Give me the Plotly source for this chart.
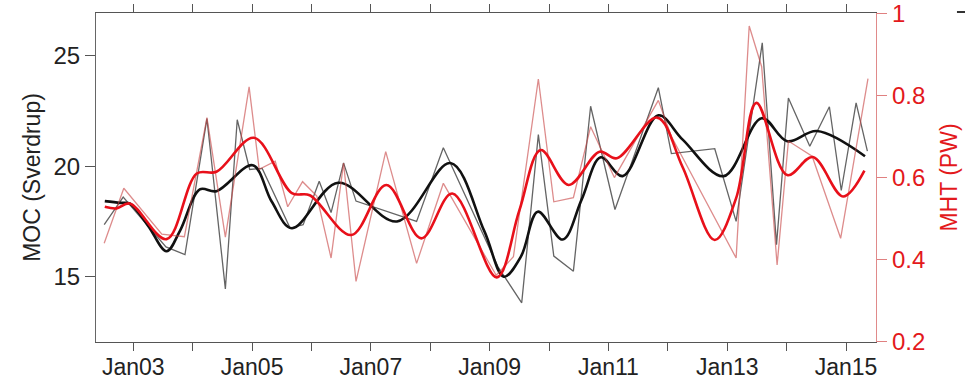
import plotly.graph_objects as go

# ---- data (x in decimal years) ----
moc_raw_x = [2002.51, 2002.83, 2003.55, 2003.87, 2004.24, 2004.55, 2004.75, 2004.96, 2005.17,
             2005.64, 2005.86, 2006.13, 2006.33, 2006.54, 2006.75, 2007.77, 2008.22, 2009.14,
             2009.54, 2009.82, 2010.08, 2010.41, 2010.70, 2011.11, 2011.84, 2012.06, 2012.79,
             2013.15, 2013.59, 2013.83, 2014.03, 2014.39, 2014.72, 2014.92, 2015.17, 2015.36]
moc_raw = [17.35, 18.6, 16.35, 16.0, 22.15, 14.45, 22.1, 19.85, 19.9,
           17.2, 17.35, 19.32, 17.9, 20.15, 18.42, 17.5, 20.83, 15.45,
           13.82, 21.43, 15.93, 15.25, 22.71, 18.04, 23.55, 20.57, 20.79,
           17.5, 25.58, 16.45, 23.08, 20.9, 22.69, 18.9, 22.86, 20.68]

mht_raw_x = [2002.51, 2002.84, 2003.48, 2003.86, 2004.24, 2004.55, 2004.95, 2005.12, 2005.39,
             2005.60, 2005.85, 2006.09, 2006.33, 2006.54, 2006.75, 2007.25, 2007.77, 2008.22,
             2009.11, 2009.40, 2009.82, 2010.08, 2010.41, 2010.70, 2011.10, 2011.84, 2012.06,
             2013.15, 2013.37, 2013.58, 2013.84, 2014.03, 2014.43, 2014.91, 2015.37]
mht_raw = [0.44, 0.574, 0.462, 0.456, 0.746, 0.455, 0.821, 0.62, 0.64,
           0.529, 0.59, 0.555, 0.404, 0.635, 0.347, 0.663, 0.391, 0.586,
           0.362, 0.407, 0.84, 0.541, 0.551, 0.724, 0.6, 0.788, 0.70,
           0.404, 0.969, 0.87, 0.387, 0.689, 0.652, 0.452, 0.841]

moc_smooth_x = [2002.52, 2002.78, 2002.94, 2003.25, 2003.56, 2003.79, 2004.12, 2004.40, 2005.01,
                2005.33, 2005.67, 2006.45, 2007.44, 2008.34, 2008.91, 2009.24, 2009.53, 2009.81,
                2010.23, 2010.55, 2010.87, 2011.24, 2011.84, 2012.25, 2012.94, 2013.58, 2014.01,
                2014.51, 2015.32]
moc_smooth = [18.42, 18.34, 18.31, 17.3, 16.15, 17.1, 18.95, 18.87, 20.04,
              18.4, 17.19, 19.25, 17.5, 20.14, 17.06, 15.0, 15.93, 17.94,
              16.68, 18.5, 20.4, 19.55, 22.3, 21.2, 19.55, 22.17, 21.13,
              21.59, 20.45]

mht_smooth_x = [2002.52, 2002.72, 2002.94, 2003.56, 2004.07, 2004.40, 2005.03, 2005.67, 2005.97,
                2006.67, 2007.26, 2007.85, 2008.37, 2009.12, 2009.50, 2009.86, 2010.33, 2010.85,
                2011.14, 2011.82, 2012.25, 2012.79, 2013.15, 2013.49, 2014.01, 2014.44, 2014.95,
                2015.31]
mht_smooth = [0.529, 0.525, 0.537, 0.45, 0.61, 0.614, 0.697, 0.562, 0.557,
              0.46, 0.582, 0.452, 0.561, 0.357, 0.52, 0.667, 0.582, 0.663,
              0.647, 0.746, 0.625, 0.448, 0.55, 0.782, 0.606, 0.65, 0.554,
              0.617]

tick_years = list(range(2003, 2016))
tick_text = ["Jan03", "", "Jan05", "", "Jan07", "", "Jan09", "", "Jan11", "", "Jan13", "", "Jan15"]
moc_ticks = [15, 20, 25]
mht_ticks = [0.2, 0.4, 0.6, 0.8, 1.0]
mht_tick_text = ["0.2", "0.4", "0.6", "0.8", "1"]

FONT = "Liberation Sans, Arial, Helvetica, sans-serif"
RED = "#e3191c"

fig = go.Figure()
fig.add_trace(go.Scatter(x=moc_raw_x, y=moc_raw, mode="lines",
                         line=dict(color="rgba(40,40,40,0.72)", width=1.3), yaxis="y"))
fig.add_trace(go.Scatter(x=mht_raw_x, y=mht_raw, mode="lines",
                         line=dict(color="rgba(200,70,70,0.62)", width=1.3), yaxis="y2"))
fig.add_trace(go.Scatter(x=moc_smooth_x, y=moc_smooth, mode="lines",
                         line=dict(color="#111111", width=2.6, shape="spline", smoothing=1.0),
                         yaxis="y"))
fig.add_trace(go.Scatter(x=mht_smooth_x, y=mht_smooth, mode="lines",
                         line=dict(color="#e8101a", width=2.6, shape="spline", smoothing=1.0),
                         yaxis="y2"))

fig.update_layout(
    width=965, height=383,
    margin=dict(l=96, r=89, t=13, b=41, autoexpand=False),
    paper_bgcolor="white", plot_bgcolor="white",
    showlegend=False,
    font=dict(family=FONT, size=24, color="#222"),
    xaxis=dict(range=[2002.372, 2015.505], tickmode="array", tickvals=tick_years,
               ticktext=tick_text, ticks="outside", ticklen=8, tickwidth=1.2,
               tickcolor="#555", showline=True, linecolor="#555", linewidth=1.2,
               mirror="ticks", showgrid=False, zeroline=False, automargin=False,
               ticklabelstandoff=-4,
               tickfont=dict(size=23, color="#222")),
    yaxis=dict(range=[12.045, 26.93], tickmode="array", tickvals=moc_ticks,
               ticks="outside", ticklen=10, tickwidth=1.2, tickcolor="#555",
               showline=True, linecolor="#666", linewidth=1.2, showgrid=False,
               zeroline=False, automargin=False, tickfont=dict(size=24, color="#222"),
               title=dict(text="MOC (Sverdrup)", font=dict(size=23, color="#222"),
                          standoff=6)),
    yaxis2=dict(range=[0.1995, 1.0008], overlaying="y", side="right", tickmode="array",
                tickvals=mht_ticks, ticktext=mht_tick_text, ticks="outside",
                ticklen=10, tickwidth=1.2, tickcolor="#e08080", showline=True,
                linecolor="#e08a8a", linewidth=1.2, showgrid=False, zeroline=False,
                automargin=False, ticklabeloverflow="allow",
                tickfont=dict(size=24, color=RED),
                title=dict(text="MHT (PW)", font=dict(size=23, color=RED), standoff=16)),
    shapes=[dict(type="line", xref="paper", yref="paper", x0=1.1038, x1=1.1141,
                 y0=1.003, y1=1.003, line=dict(color="#333", width=2))],
)

fig.write_html("out.html")
